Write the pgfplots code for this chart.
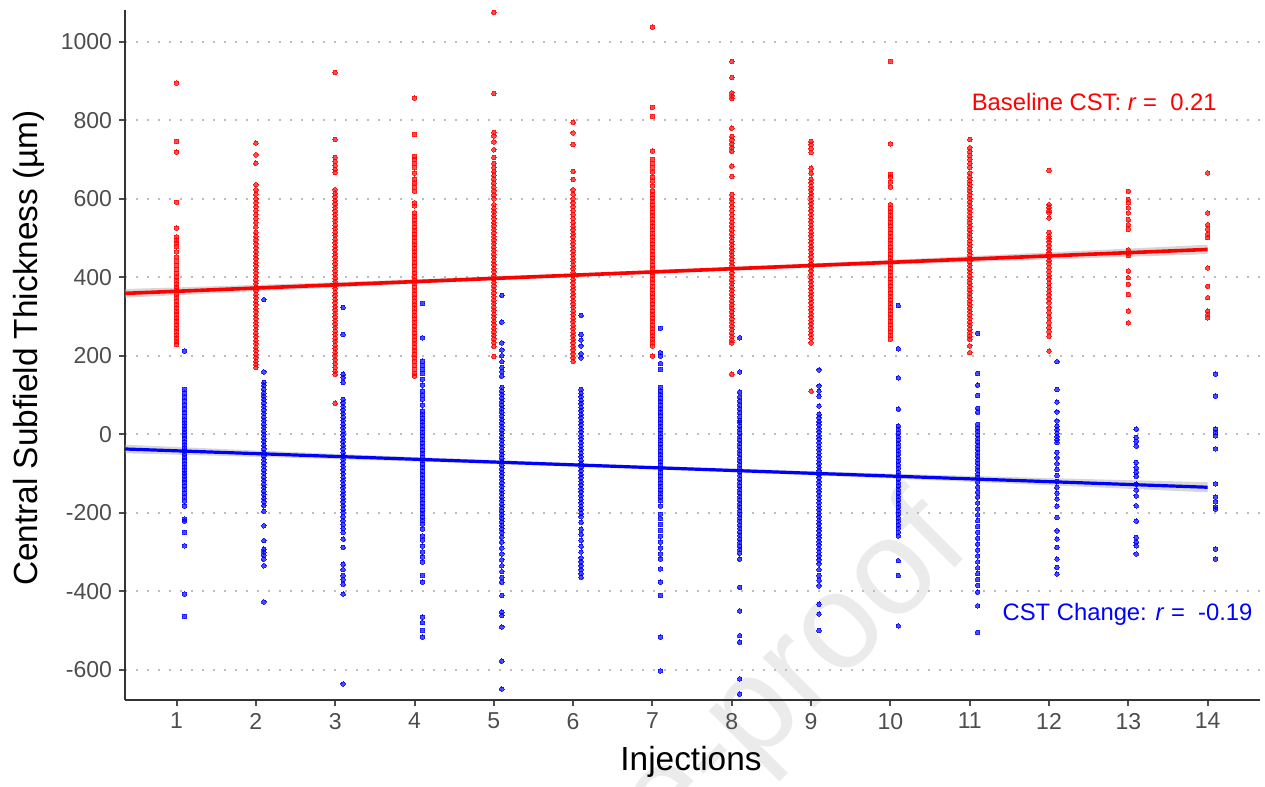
\documentclass[border=0pt]{standalone}
\usepackage{pgfplots}
\pgfplotsset{compat=1.18}
\usepackage{pgfplotstable}
\usepackage{fontspec}
\setmainfont{Liberation Sans}
\definecolor{gthirty}{HTML}{4D4D4D}
\definecolor{gridc}{HTML}{BDBDBD}
\definecolor{wmark}{HTML}{EBEBEB}

\pgfplotstableread{
x y
1 895
1 746
1 719
1 591
1 525
1 503
1 495
1 488
1 478
1 465
1 452
1 440
1 430
1 420
1 410
1 400
1 392
1 383
1 375
1 366
1 357
1 348
1 340
1 330
1 322
1 313
1 305
1 296
1 288
1 279
1 270
1 262
1 253
1 245
1 236
1 229
2 742
2 712
2 691
2 636
2 623
2 612
2 600
2 590
2 580
2 570
2 560
2 550
2 540
2 528
2 515
2 505
2 495
2 485
2 475
2 465
2 456
2 447
2 438
2 429
2 420
2 411
2 402
2 393
2 384
2 375
2 366
2 357
2 348
2 339
2 330
2 321
2 312
2 303
2 294
2 285
2 276
2 267
2 258
2 249
2 240
2 231
2 222
2 213
2 204
2 195
2 186
2 178
2 170
3 922
3 751
3 705
3 695
3 685
3 675
3 667
3 623
3 614
3 605
3 596
3 587
3 578
3 569
3 560
3 551
3 542
3 533
3 524
3 515
3 506
3 497
3 488
3 479
3 470
3 461
3 452
3 443
3 434
3 425
3 416
3 407
3 398
3 389
3 380
3 371
3 362
3 353
3 344
3 335
3 326
3 317
3 308
3 299
3 290
3 281
3 272
3 263
3 254
3 245
3 236
3 227
3 218
3 209
3 200
3 190
3 180
3 170
3 160
3 153
3 79
4 856
4 764
4 708
4 700
4 690
4 680
4 665
4 650
4 640
4 630
4 619
4 590
4 582
4 564
4 555
4 546
4 537
4 528
4 519
4 510
4 501
4 492
4 483
4 474
4 465
4 456
4 447
4 438
4 429
4 420
4 411
4 402
4 393
4 384
4 375
4 366
4 357
4 348
4 339
4 330
4 321
4 312
4 303
4 294
4 285
4 276
4 267
4 258
4 249
4 240
4 231
4 222
4 213
4 204
4 195
4 185
4 175
4 165
4 155
4 148
5 1075
5 868
5 769
5 760
5 745
5 725
5 705
5 690
5 680
5 670
5 660
5 650
5 640
5 630
5 620
5 610
5 600
5 585
5 576
5 567
5 558
5 549
5 540
5 531
5 522
5 513
5 504
5 495
5 486
5 477
5 468
5 459
5 450
5 441
5 432
5 423
5 414
5 405
5 396
5 387
5 378
5 369
5 360
5 351
5 342
5 333
5 324
5 315
5 306
5 297
5 288
5 279
5 270
5 261
5 252
5 243
5 234
5 224
5 198
6 795
6 768
6 738
6 670
6 649
6 623
6 612
6 600
6 590
6 580
6 570
6 560
6 550
6 540
6 530
6 521
6 512
6 503
6 494
6 485
6 476
6 467
6 458
6 449
6 440
6 431
6 422
6 413
6 404
6 395
6 386
6 377
6 368
6 359
6 350
6 341
6 332
6 323
6 314
6 305
6 296
6 287
6 278
6 269
6 260
6 251
6 242
6 233
6 224
6 215
6 205
6 195
6 186
7 1037
7 833
7 810
7 721
7 700
7 690
7 680
7 668
7 655
7 645
7 632
7 620
7 611
7 602
7 593
7 584
7 575
7 566
7 557
7 548
7 539
7 530
7 521
7 512
7 503
7 494
7 485
7 476
7 467
7 458
7 449
7 440
7 431
7 422
7 413
7 404
7 395
7 386
7 377
7 368
7 359
7 350
7 341
7 332
7 323
7 314
7 305
7 296
7 287
7 278
7 269
7 260
7 251
7 242
7 233
7 225
7 199
8 950
8 909
8 870
8 862
8 855
8 780
8 759
8 750
8 740
8 730
8 721
8 683
8 657
8 611
8 600
8 590
8 580
8 570
8 560
8 550
8 540
8 530
8 520
8 510
8 501
8 492
8 483
8 474
8 465
8 456
8 447
8 438
8 429
8 420
8 411
8 402
8 393
8 384
8 375
8 366
8 357
8 348
8 339
8 330
8 321
8 312
8 303
8 294
8 285
8 276
8 267
8 258
8 249
8 240
8 233
8 153
9 746
9 738
9 728
9 718
9 678
9 665
9 650
9 641
9 632
9 623
9 614
9 605
9 596
9 587
9 578
9 569
9 560
9 551
9 542
9 533
9 524
9 515
9 506
9 497
9 488
9 479
9 470
9 461
9 452
9 443
9 434
9 425
9 416
9 407
9 398
9 389
9 380
9 371
9 362
9 353
9 344
9 335
9 326
9 317
9 308
9 299
9 290
9 281
9 272
9 263
9 254
9 245
9 233
9 110
10 950
10 740
10 662
10 655
10 642
10 630
10 585
10 576
10 567
10 558
10 549
10 540
10 531
10 522
10 513
10 504
10 495
10 486
10 477
10 468
10 459
10 450
10 441
10 432
10 423
10 414
10 405
10 396
10 387
10 378
10 369
10 360
10 351
10 342
10 333
10 324
10 315
10 306
10 297
10 288
10 279
10 270
10 261
10 252
10 242
11 751
11 730
11 720
11 710
11 700
11 690
11 680
11 666
11 655
11 646
11 637
11 628
11 619
11 610
11 601
11 592
11 583
11 574
11 565
11 556
11 547
11 538
11 529
11 520
11 511
11 502
11 493
11 484
11 475
11 466
11 457
11 448
11 439
11 430
11 421
11 412
11 403
11 394
11 385
11 376
11 367
11 358
11 349
11 340
11 331
11 322
11 313
11 304
11 295
11 286
11 277
11 268
11 259
11 250
11 242
11 225
11 208
12 672
12 585
12 578
12 570
12 564
12 551
12 514
12 505
12 498
12 490
12 480
12 470
12 462
12 452
12 443
12 435
12 425
12 415
12 405
12 396
12 385
12 375
12 365
12 355
12 345
12 335
12 322
12 310
12 298
12 285
12 272
12 262
12 250
12 212
13 619
13 598
13 590
13 577
13 564
13 547
13 534
13 522
13 470
13 462
13 455
13 416
13 399
13 382
13 356
13 314
13 284
14 666
14 564
14 534
14 522
14 509
14 501
14 424
14 377
14 348
14 314
14 305
14 297
}\redpts

\pgfplotstableread{
x y
1.1 212
1.1 114
1.1 105
1.1 95
1.1 85
1.1 75
1.1 65
1.1 55
1.1 45
1.1 37
1.1 29
1.1 21
1.1 13
1.1 5
1.1 -3
1.1 -11
1.1 -19
1.1 -27
1.1 -35
1.1 -43
1.1 -51
1.1 -59
1.1 -67
1.1 -75
1.1 -83
1.1 -91
1.1 -99
1.1 -107
1.1 -115
1.1 -123
1.1 -132
1.1 -141
1.1 -150
1.1 -160
1.1 -170
1.1 -183
1.1 -216
1.1 -221
1.1 -250
1.1 -284
1.1 -407
1.1 -464
2.1 343
2.1 159
2.1 132
2.1 125
2.1 115
2.1 105
2.1 97
2.1 89
2.1 80
2.1 71
2.1 62
2.1 53
2.1 44
2.1 35
2.1 26
2.1 17
2.1 8
2.1 -1
2.1 -10
2.1 -19
2.1 -28
2.1 -37
2.1 -46
2.1 -55
2.1 -64
2.1 -73
2.1 -82
2.1 -91
2.1 -100
2.1 -109
2.1 -118
2.1 -127
2.1 -136
2.1 -145
2.1 -154
2.1 -163
2.1 -172
2.1 -181
2.1 -196
2.1 -233
2.1 -271
2.1 -293
2.1 -300
2.1 -308
2.1 -318
2.1 -335
2.1 -427
3.1 323
3.1 254
3.1 153
3.1 145
3.1 132
3.1 89
3.1 80
3.1 71
3.1 62
3.1 53
3.1 44
3.1 35
3.1 26
3.1 17
3.1 8
3.1 -1
3.1 -10
3.1 -19
3.1 -28
3.1 -37
3.1 -46
3.1 -55
3.1 -64
3.1 -73
3.1 -82
3.1 -91
3.1 -100
3.1 -109
3.1 -118
3.1 -127
3.1 -136
3.1 -145
3.1 -154
3.1 -163
3.1 -172
3.1 -181
3.1 -191
3.1 -199
3.1 -210
3.1 -220
3.1 -230
3.1 -240
3.1 -250
3.1 -267
3.1 -288
3.1 -331
3.1 -345
3.1 -360
3.1 -370
3.1 -382
3.1 -407
3.1 -636
4.1 333
4.1 246
4.1 186
4.1 175
4.1 165
4.1 155
4.1 140
4.1 125
4.1 110
4.1 100
4.1 89
4.1 74
4.1 59
4.1 50
4.1 41
4.1 32
4.1 23
4.1 14
4.1 5
4.1 -4
4.1 -13
4.1 -22
4.1 -31
4.1 -40
4.1 -49
4.1 -58
4.1 -67
4.1 -76
4.1 -85
4.1 -94
4.1 -103
4.1 -112
4.1 -121
4.1 -130
4.1 -139
4.1 -148
4.1 -157
4.1 -166
4.1 -175
4.1 -184
4.1 -193
4.1 -202
4.1 -211
4.1 -220
4.1 -229
4.1 -242
4.1 -259
4.1 -270
4.1 -285
4.1 -300
4.1 -313
4.1 -326
4.1 -360
4.1 -377
4.1 -466
4.1 -480
4.1 -500
4.1 -517
5.1 354
5.1 286
5.1 233
5.1 215
5.1 200
5.1 185
5.1 170
5.1 160
5.1 148
5.1 119
5.1 110
5.1 101
5.1 92
5.1 83
5.1 74
5.1 65
5.1 56
5.1 47
5.1 38
5.1 29
5.1 20
5.1 11
5.1 2
5.1 -7
5.1 -16
5.1 -25
5.1 -34
5.1 -43
5.1 -52
5.1 -61
5.1 -70
5.1 -79
5.1 -88
5.1 -97
5.1 -106
5.1 -115
5.1 -124
5.1 -133
5.1 -142
5.1 -151
5.1 -160
5.1 -169
5.1 -178
5.1 -187
5.1 -196
5.1 -205
5.1 -214
5.1 -223
5.1 -232
5.1 -241
5.1 -250
5.1 -262
5.1 -275
5.1 -290
5.1 -305
5.1 -320
5.1 -335
5.1 -350
5.1 -365
5.1 -377
5.1 -411
5.1 -453
5.1 -462
5.1 -491
5.1 -578
5.1 -649
6.1 303
6.1 254
6.1 240
6.1 225
6.1 205
6.1 195
6.1 114
6.1 105
6.1 96
6.1 87
6.1 78
6.1 69
6.1 60
6.1 51
6.1 42
6.1 33
6.1 24
6.1 15
6.1 6
6.1 -3
6.1 -12
6.1 -21
6.1 -30
6.1 -39
6.1 -48
6.1 -57
6.1 -66
6.1 -75
6.1 -84
6.1 -93
6.1 -102
6.1 -111
6.1 -120
6.1 -129
6.1 -138
6.1 -147
6.1 -156
6.1 -165
6.1 -174
6.1 -183
6.1 -192
6.1 -201
6.1 -210
6.1 -224
6.1 -242
6.1 -255
6.1 -270
6.1 -285
6.1 -300
6.1 -315
6.1 -325
6.1 -335
6.1 -345
6.1 -355
6.1 -364
7.1 270
7.1 208
7.1 199
7.1 180
7.1 165
7.1 119
7.1 110
7.1 101
7.1 92
7.1 83
7.1 74
7.1 65
7.1 56
7.1 47
7.1 38
7.1 29
7.1 20
7.1 11
7.1 2
7.1 -7
7.1 -16
7.1 -25
7.1 -34
7.1 -43
7.1 -52
7.1 -61
7.1 -70
7.1 -79
7.1 -88
7.1 -97
7.1 -106
7.1 -115
7.1 -124
7.1 -133
7.1 -142
7.1 -151
7.1 -160
7.1 -169
7.1 -183
7.1 -204
7.1 -215
7.1 -230
7.1 -245
7.1 -260
7.1 -275
7.1 -290
7.1 -305
7.1 -318
7.1 -343
7.1 -377
7.1 -411
7.1 -517
7.1 -603
8.1 246
8.1 159
8.1 107
8.1 95
8.1 85
8.1 75
8.1 65
8.1 55
8.1 45
8.1 35
8.1 30
8.1 21
8.1 12
8.1 3
8.1 -6
8.1 -15
8.1 -24
8.1 -33
8.1 -42
8.1 -51
8.1 -60
8.1 -69
8.1 -78
8.1 -87
8.1 -96
8.1 -105
8.1 -114
8.1 -123
8.1 -132
8.1 -141
8.1 -150
8.1 -159
8.1 -168
8.1 -177
8.1 -186
8.1 -195
8.1 -204
8.1 -213
8.1 -222
8.1 -231
8.1 -240
8.1 -249
8.1 -258
8.1 -267
8.1 -276
8.1 -285
8.1 -294
8.1 -303
8.1 -318
8.1 -390
8.1 -450
8.1 -513
8.1 -530
8.1 -623
8.1 -662
9.1 164
9.1 123
9.1 110
9.1 97
9.1 72
9.1 51
9.1 42
9.1 33
9.1 24
9.1 15
9.1 6
9.1 -3
9.1 -12
9.1 -21
9.1 -30
9.1 -39
9.1 -48
9.1 -57
9.1 -66
9.1 -75
9.1 -84
9.1 -93
9.1 -102
9.1 -111
9.1 -120
9.1 -129
9.1 -138
9.1 -147
9.1 -156
9.1 -165
9.1 -174
9.1 -183
9.1 -192
9.1 -201
9.1 -210
9.1 -219
9.1 -228
9.1 -237
9.1 -246
9.1 -255
9.1 -264
9.1 -273
9.1 -282
9.1 -291
9.1 -300
9.1 -310
9.1 -320
9.1 -330
9.1 -345
9.1 -360
9.1 -372
9.1 -386
9.1 -433
9.1 -458
9.1 -500
10.1 328
10.1 218
10.1 144
10.1 64
10.1 21
10.1 12
10.1 3
10.1 -6
10.1 -15
10.1 -24
10.1 -33
10.1 -42
10.1 -51
10.1 -60
10.1 -69
10.1 -78
10.1 -87
10.1 -96
10.1 -105
10.1 -114
10.1 -123
10.1 -132
10.1 -141
10.1 -150
10.1 -159
10.1 -168
10.1 -177
10.1 -186
10.1 -195
10.1 -204
10.1 -213
10.1 -222
10.1 -231
10.1 -240
10.1 -250
10.1 -259
10.1 -322
10.1 -360
10.1 -488
11.1 257
11.1 155
11.1 125
11.1 99
11.1 66
11.1 56
11.1 25
11.1 16
11.1 7
11.1 -2
11.1 -11
11.1 -20
11.1 -29
11.1 -38
11.1 -47
11.1 -56
11.1 -65
11.1 -74
11.1 -83
11.1 -92
11.1 -101
11.1 -110
11.1 -122
11.1 -135
11.1 -148
11.1 -160
11.1 -175
11.1 -190
11.1 -205
11.1 -220
11.1 -235
11.1 -250
11.1 -265
11.1 -280
11.1 -295
11.1 -310
11.1 -325
11.1 -340
11.1 -355
11.1 -370
11.1 -385
11.1 -402
11.1 -437
11.1 -505
12.1 185
12.1 114
12.1 82
12.1 57
12.1 34
12.1 21
12.1 12
12.1 3
12.1 -6
12.1 -14
12.1 -21
12.1 -46
12.1 -60
12.1 -75
12.1 -90
12.1 -105
12.1 -120
12.1 -135
12.1 -150
12.1 -165
12.1 -183
12.1 -212
12.1 -246
12.1 -267
12.1 -288
12.1 -318
12.1 -339
12.1 -356
13.1 13
13.1 -8
13.1 -18
13.1 -30
13.1 -72
13.1 -85
13.1 -97
13.1 -107
13.1 -127
13.1 -142
13.1 -157
13.1 -182
13.1 -221
13.1 -263
13.1 -275
13.1 -284
13.1 -305
14.1 153
14.1 97
14.1 13
14.1 5
14.1 -4
14.1 -37
14.1 -126
14.1 -160
14.1 -172
14.1 -185
14.1 -191
14.1 -293
14.1 -318
}\bluepts

\begin{document}
\begin{tikzpicture}
\useasboundingbox (-62.5pt,-43.5pt) rectangle (570pt,350pt);
\node[rotate=45, text=wmark, font=\fontsize{68}{80}\selectfont] at (226pt,-98pt) {Journal Pre-proof};
\begin{axis}[
  at={(0,0)}, anchor=south west,
  scale only axis, width=567.5pt, height=345pt,
  xmin=0.35, xmax=14.66, ymin=-677, ymax=1081,
  axis x line=bottom, axis y line=left,
  axis line style={-, line width=1.1pt, color=black!80},
  xtick={1,...,14}, ytick={-600,-400,...,1000},
  tick align=outside, major tick length=3pt,
  tick style={line width=1pt, color=gthirty},
  ymajorgrids,
  major grid style={line width=1pt, color=gridc, dash pattern=on 1pt off 4.5pt},
  /pgf/number format/assume math mode=true,
  /pgf/number format/set thousands separator={},
  xticklabel style={font=\fontsize{11.5}{13}\selectfont, text=gthirty},
  yticklabel style={font=\fontsize{11.5}{13}\selectfont, text=gthirty},
  clip=false,
]
\addplot[only marks, color=red, mark=*, mark size=1.15pt, opacity=0.7, mark options={draw=red, fill=red, line width=0pt}] table[x=x,y=y] {\redpts};
\addplot[only marks, color=blue, mark=*, mark size=1.15pt, opacity=0.7, mark options={draw=blue, fill=blue, line width=0pt}] table[x=x,y=y] {\bluepts};
% confidence bands
\addplot[draw=none, fill=gray!70, fill opacity=0.45] coordinates {(0.35,370) (2,380.5) (4,394.4) (6,409.8) (7,418) (8,426.2) (10,444.1) (12,463.5) (14,482.9) (14,458.9) (12,445.5) (10,432.1) (8,417.2) (7,409) (6,400.8) (4,383.4) (2,364.5) (0.35,348)} -- cycle;
\addplot[draw=none, fill=gray!70, fill opacity=0.45] coordinates {(0.35,-26.5) (2,-41.3) (4,-58.1) (6,-73.3) (7,-80.5) (8,-87.6) (10,-100.4) (12,-111.7) (14,-122) (14,-148) (12,-129.7) (10,-112.4) (8,-96.6) (7,-89.5) (6,-82.3) (4,-69.1) (2,-57.3) (0.35,-48.5)} -- cycle;
% regression lines
\addplot[red, line width=1.8pt] coordinates {(0.35,359) (14,470.9)};
\addplot[blue, line width=1.6pt] coordinates {(0.35,-37.5) (14,-135)};
\node[text=red, font=\fontsize{11.9}{14}\selectfont] at (axis cs:12.57,847) {Baseline CST: \textit{r} = \ 0.21};
\node[text=blue, font=\fontsize{11.9}{14}\selectfont] at (axis cs:12.99,-458) {CST Change: \textit{r} = \ -0.19};
\end{axis}
\node[rotate=90, font=\fontsize{16.7}{19}\selectfont] at (-48pt,176pt) {Central Subfield Thickness (µm)};
\node[font=\fontsize{16.7}{19}\selectfont] at (283pt,-31pt) {Injections};
\end{tikzpicture}
\end{document}
